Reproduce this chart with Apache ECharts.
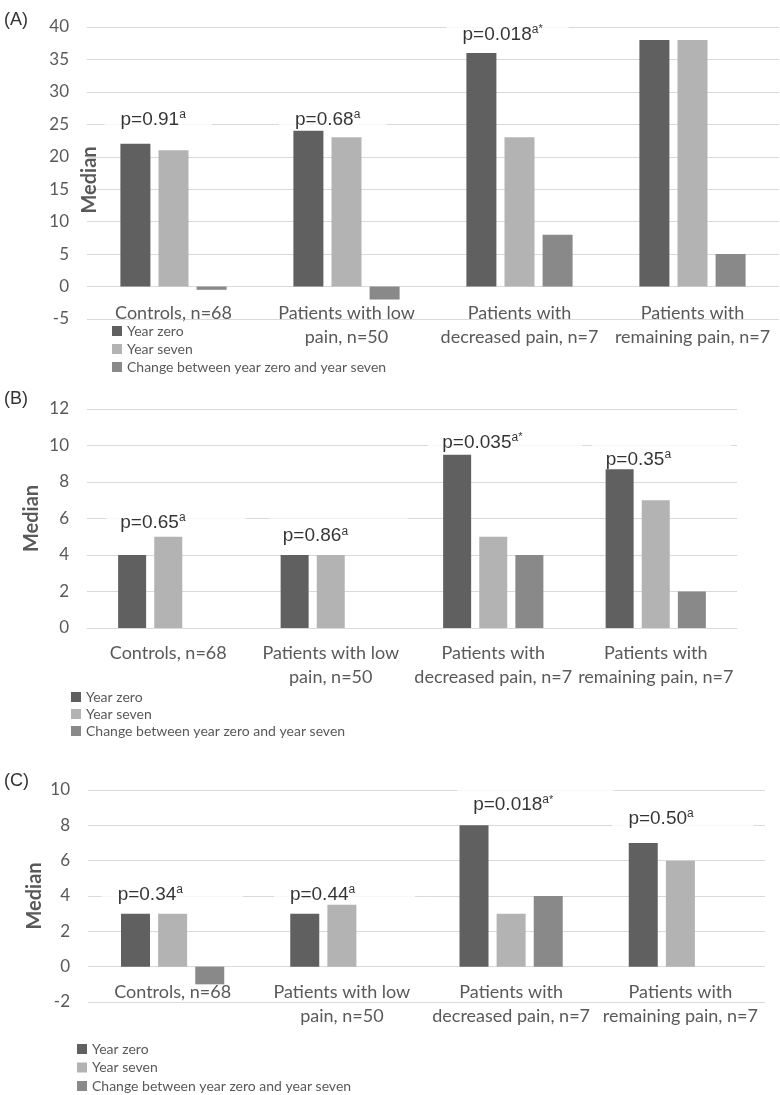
<!DOCTYPE html>
<html><head><meta charset="utf-8">
<script src="https://cdn.jsdelivr.net/npm/echarts@6/dist/echarts.min.js"></script>
<style>html,body{margin:0;padding:0;background:#fff}#c{width:780px;height:1095px}</style>
</head><body><div id="c"></div>
<script>
// ---------- data ----------
const categories = ['Controls, n=68', 'Patients with low\npain, n=50', 'Patients with\ndecreased pain, n=7', 'Patients with\nremaining pain, n=7'];
const seriesNames = ['Year zero', 'Year seven', 'Change between year zero and year seven'];

const aYearZero = [22, 24, 36, 38];
const aYearSeven = [21, 23, 23, 38];
const aChange = [-0.5, -2, 8, 5];

const bYearZero = [4, 4, 9.5, 8.7];
const bYearSeven = [5, 4, 5, 7];
const bChange = [0, 0, 4, 2];

const cYearZero = [3, 3, 8, 7];
const cYearSeven = [3, 3.5, 3, 6];
const cChange = [-1, 0, 4, 0];

const aPValues = ['0.91', '0.68', '0.018', '0.31'];
const bPValues = ['0.65', '0.86', '0.035', '0.35'];
const cPValues = ['0.34', '0.44', '0.018', '0.50'];
const aSignificant = [false, false, true, false];
const bSignificant = [false, false, true, false];
const cSignificant = [false, false, true, false];
// annotation anchor heights (in data units)
const aPY = [26, 26, 39.1, 40.8];
const bPY = [5.9, 5.14, 10.27, 9.34];
const cPY = [4.2, 4.2, 9.26, 8.47];

const aTicks = { min: -5, max: 40, interval: 5 };
const bTicks = { min: 0, max: 12, interval: 2 };
const cTicks = { min: -2, max: 10, interval: 2 };

// ---------- layout / style ----------
const colors = ['#606060', '#b3b3b3', '#898989'];
const sans = 'Lato';
const arial = '"Liberation Sans", Arial, sans-serif';
const panels = [
  { tag: '(A)', tagTop: 6, grid: { left: 87, top: 27, width: 692, height: 292 }, ticks: aTicks,
    data: [aYearZero, aYearSeven, aChange], p: aPValues, sig: aSignificant, py: aPY,
    dx: [-53, -51.5, -57, -50], barWidth: 30, barGap: '27%', nameGap: -13, namePad: [0, 14, 0, 0],
    labelMargin: -18, pad: [7, 26, 3, 16], legend: { left: 112, top: 324, itemGap: 4 } },
  { tag: '(B)', tagTop: 385, grid: { left: 87, top: 409, width: 650, height: 219 }, ticks: bTicks,
    data: [bYearZero, bYearSeven, bChange], p: bPValues, sig: bSignificant, py: bPY,
    dx: [-48, -48, -51, -50], barWidth: 28, barGap: '29%', nameGap: 45, namePad: [0, 0, 0, 0],
    labelMargin: 13, pad: [7, 60, 3, 14], legend: { left: 71, top: 690, itemGap: 3 } },
  { tag: '(C)', tagTop: 767, grid: { left: 88, top: 790, width: 677, height: 212 }, ticks: cTicks,
    data: [cYearZero, cYearSeven, cChange], p: cPValues, sig: cSignificant, py: cPY,
    dx: [-55, -52, -38, -52], barWidth: 29, barGap: '28%', nameGap: 43, namePad: [0, 0, 0, 0],
    labelMargin: -22, pad: [7, 60, 3, 16], legend: { left: 77, top: 1042, itemGap: 4.5 } }
];

const option = {
  animation: false,
  backgroundColor: '#fff',
  grid: [], xAxis: [], yAxis: [], series: [], legend: [], title: []
};

panels.forEach((pn, gi) => {
  option.grid.push(pn.grid);
  option.title.push({ text: pn.tag, left: -1, top: pn.tagTop,
    textStyle: { fontFamily: arial, fontSize: 18, fontWeight: 'normal', color: '#333' } });
  option.xAxis.push({
    type: 'category', gridIndex: gi, data: categories,
    axisLine: { show: false, onZero: false },
    axisTick: { show: false }, splitLine: { show: false },
    axisLabel: { interval: 0, margin: pn.labelMargin, color: '#595959', fontFamily: sans, fontSize: 18, lineHeight: 24 }
  });
  option.yAxis.push({
    type: 'value', gridIndex: gi, min: pn.ticks.min, max: pn.ticks.max, interval: pn.ticks.interval,
    name: 'Median', nameLocation: 'middle', nameRotate: 90, nameGap: pn.nameGap, nameMoveOverlap: false,
    nameTextStyle: { fontFamily: sans, fontWeight: 'bold', fontSize: 20, color: '#595959', padding: pn.namePad },
    axisLine: { show: false }, axisTick: { show: false },
    splitLine: { lineStyle: { color: '#d9d9d9', width: 1 } },
    axisLabel: { margin: 18, color: '#595959', fontFamily: sans, fontSize: 17 }
  });
  pn.data.forEach((arr, si) => {
    option.series.push({
      type: 'bar', name: seriesNames[si], xAxisIndex: gi, yAxisIndex: gi,
      data: arr, barWidth: pn.barWidth, barGap: pn.barGap,
      itemStyle: { color: colors[si] }, z: 3
    });
  });
  option.series.push({
    type: 'scatter', xAxisIndex: gi, yAxisIndex: gi, symbolSize: 0, silent: true, z: 2,
    data: pn.p.map((v, i) => ({
      value: [i, pn.py[i]],
      label: { offset: [pn.dx[i] - pn.pad[3], 0],
        formatter: 'p=' + v + '{sup|a}' + (pn.sig[i] ? '{star|*}' : '') }
    })),
    label: {
      show: true, position: [0, 0], align: 'left', verticalAlign: 'middle',
      backgroundColor: '#fff', padding: pn.pad,
      fontFamily: arial, fontSize: 19, color: '#000', lineHeight: 22,
      rich: {
        sup: { fontFamily: arial, fontSize: 12, lineHeight: 12, verticalAlign: 'top', color: '#000' },
        star: { fontFamily: arial, fontSize: 11, lineHeight: 9, verticalAlign: 'top', color: '#000' }
      }
    }
  });
  option.legend.push(Object.assign({
    orient: 'vertical', data: seriesNames, itemWidth: 10, itemHeight: 10, itemTextGap: 2,
    icon: 'rect', selectedMode: false, padding: 0,
    textStyle: { fontFamily: sans, fontSize: 14, lineHeight: 14, color: '#595959' }
  }, pn.legend));
});

const chart = echarts.init(document.getElementById('c'), null, { renderer: 'canvas' });
chart.setOption(option);
</script></body></html>
